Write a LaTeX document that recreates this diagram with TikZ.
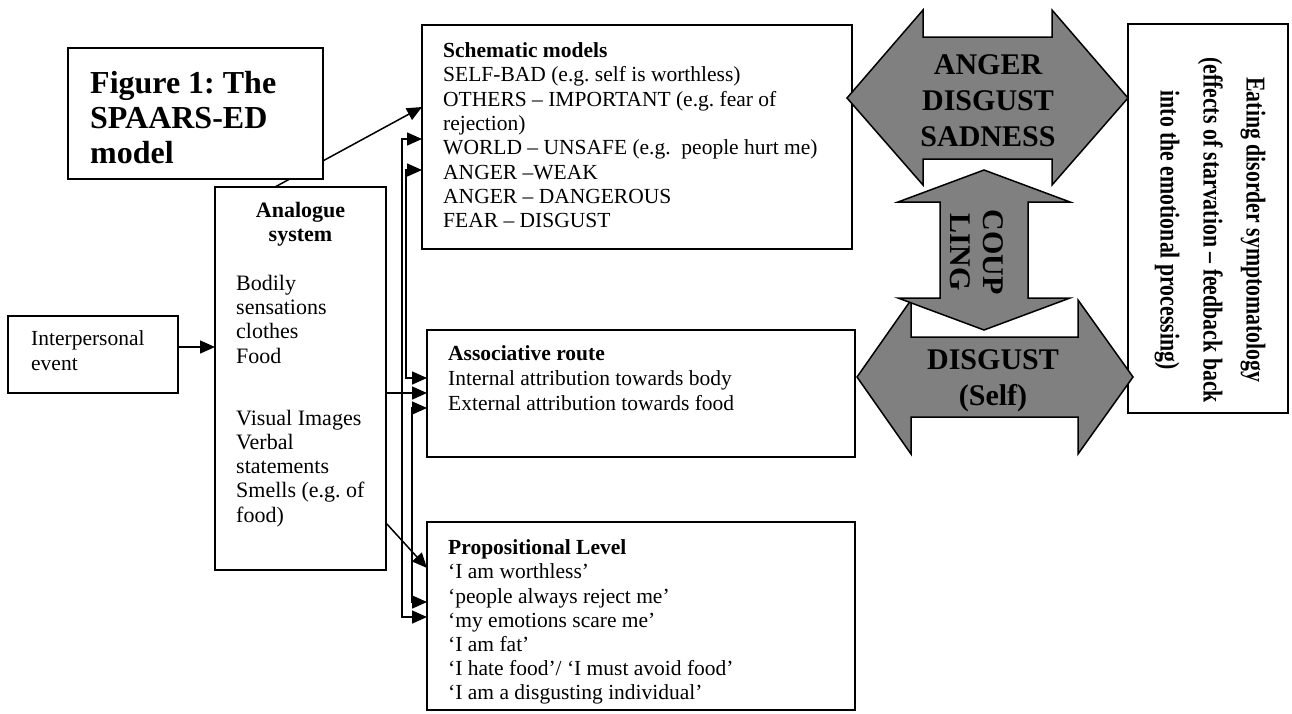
\documentclass[tikz,border=0pt]{standalone}
\usepackage{fontspec}
\setmainfont{Liberation Serif}
\usetikzlibrary{arrows.meta}
\definecolor{emogray}{HTML}{808080}
\frenchspacing
\begin{document}
\begin{tikzpicture}[x=1pt,y=-1pt,
  box/.style={draw, line width=1.7pt, fill=white, inner sep=0pt, outer sep=0pt, anchor=north west},
  txt/.style={anchor=north west, inner sep=0pt, align=left, font=\fontsize{21.5}{24.4}\selectfont},
  tip/.tip={Triangle[length=15pt,width=13pt]},
  arr/.style={line width=1.5pt, -tip},
  darr/.style={line width=1.5pt, tip-tip},
  emo/.style={draw, line width=1.5pt, fill=emogray, line join=miter},
  emotxt/.style={inner sep=0pt, align=center, font=\bfseries\fontsize{30}{36}\selectfont}
]
\useasboundingbox (0,0) rectangle (1292,713);
\fill[white] (0,0) rectangle (1292,713);

% boxes
\node[box, minimum width=170pt, minimum height=77pt] (inter) at (8,316) {};
\node[box, minimum width=171pt, minimum height=383pt] (ana) at (215,187) {};
\node[box, minimum width=430pt, minimum height=224pt] (sch) at (422,25) {};
\node[box, minimum width=428pt, minimum height=127pt] (assoc) at (427,330) {};
\node[box, minimum width=428pt, minimum height=188pt] (prop) at (427,522) {};
\node[box, minimum width=160pt, minimum height=389pt] (eat) at (1128,24) {};

% connectors
\draw[arr] (inter.east |- 0,347) -- (ana.west |- 0,347);
\draw[arr] (ana.north -| 275,0) -- (sch.west |- 0,107);
\draw[arr] (ana.east |- 0,393) -- (assoc.west |- 0,393);
\draw[arr] (ana.east |- 0,523) -- (prop.west |- 0,568);
\draw[darr] (sch.west |- 0,139) -| (402,617) -- (prop.west |- 0,617);
\draw[darr] (sch.west |- 0,170) -| (406,378) -- (assoc.west |- 0,378);
\draw[darr] (assoc.west |- 0,408) -| (412,602) -- (prop.west |- 0,602);

% title box (covers the start of the diagonal arrow)
\node[box, minimum width=255pt, minimum height=131pt] (title) at (68,48) {};

% emotion arrows
\filldraw[emo] (847,98) -- (923,10) -- (923,37) -- (1052,37) -- (1052,10) -- (1128,98)
  -- (1052,185) -- (1052,159) -- (923,159) -- (923,185) -- cycle;
\filldraw[emo] (857,377) -- (911,300) -- (911,337) -- (1078,337) -- (1078,300) -- (1133,377)
  -- (1078,454) -- (1078,417) -- (911,417) -- (911,454) -- cycle;
\filldraw[emo] (984,170) -- (1070,202) -- (1028,202) -- (1028,298) -- (1070,298) -- (984,330)
  -- (898,298) -- (940,298) -- (940,202) -- (898,202) -- cycle;

% texts
\node[anchor=north west, inner sep=0pt, align=left, font=\bfseries\fontsize{32}{35}\selectfont] (titleT) at (90,71) {Figure 1: The\\SPAARS-ED\\model};
\node[txt] (interT) at (31,330.5) {Interpersonal\\event};
\node[anchor=north, inner sep=0pt, align=center, font=\bfseries\fontsize{22}{23.5}\selectfont] (anaH) at (300.5,202.5) {Analogue\\system};
\node[txt, font=\fontsize{22}{24.2}\selectfont] (anaB) at (236,275) {Bodily\\sensations\\clothes\\Food\\[38pt]Visual Images\\Verbal\\statements\\Smells (e.g. of\\food)};
\node[txt, font=\fontsize{21.5}{24.3}\selectfont] (schT) at (443,42.5) {\textbf{Schematic models}\\SELF-BAD (e.g. self is worthless)\\OTHERS – IMPORTANT (e.g. fear of\\rejection)\\WORLD – UNSAFE (e.g.\ \ people hurt me)\\ANGER –WEAK\\ANGER – DANGEROUS\\FEAR – DISGUST};
\node[txt, font=\fontsize{21.5}{25}\selectfont] (assocT) at (448,345.5) {\textbf{Associative route}\\Internal attribution towards body\\External attribution towards food};
\node[txt, font=\fontsize{21.5}{24.2}\selectfont] (propT) at (448,539.5) {\textbf{Propositional Level}\\‘I am worthless’\\‘people always reject me’\\‘my emotions scare me’\\‘I am fat’\\‘I hate food’/ ‘I must avoid food’\\‘I am a disgusting individual’};
\node[emotxt] (emo1) at (988,101) {ANGER\\DISGUST\\SADNESS};
\node[emotxt] (emo2) at (993,381) {DISGUST\\(Self)};
\node[emotxt, rotate=-90, font=\bfseries\fontsize{30}{33}\selectfont] (coup) at (977,252) {COUP\\LING};
\node[rotate=-90, inner sep=0pt, align=center, font=\bfseries\fontsize{21.8}{43}\selectfont] (eatT) at (1210,230) {\scalebox{1}[1.25]{Eating disorder symptomatology}\\\scalebox{1}[1.25]{(effects of starvation – feedback back}\\\scalebox{1}[1.25]{into the emotional processing)}};
\end{tikzpicture}
\end{document}
